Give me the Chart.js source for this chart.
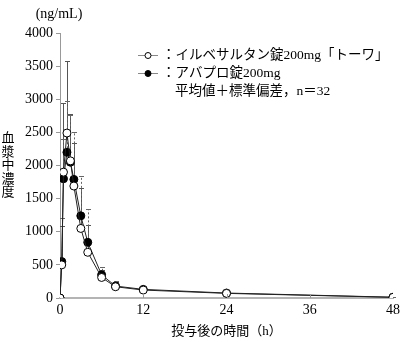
<!DOCTYPE html>
<html>
<head>
<meta charset="utf-8">
<script src="https://cdn.jsdelivr.net/npm/chart.js@4"></script>
<style>
  html, body { margin: 0; padding: 0; background: #fff; }
  #wrap { width: 400px; height: 342px; }
</style>
</head>
<body>
<div id="wrap"><canvas id="pkChart"></canvas></div>
<script>
// 採血時間 (h) と平均値・SD (ng/mL)
const timePoints = [0, 0.25, 0.5, 1, 1.5, 2, 3, 4, 6, 8, 12, 24, 48];
const towaMean = [0, 500, 1900, 2490, 2070, 1690, 1050, 690, 310, 170, 120, 70, 10];
const towaSD = [0, 580, 1040, 1080, 700, 650, 605, 410, 120, 70, 45, 25, 10];
const avaproMean = [0, 550, 1800, 2200, 2050, 1790, 1240, 840, 350, 180, 130, 75, 12];
const avaproSD = [0, 665, 600, 770, 710, 710, 600, 510, 120, 70, 40, 25, 10];
const xTicks = [0, 12, 24, 36, 48];
const legendLabels = ['：イルベサルタン錠200mg「トーワ」', '：アバプロ錠200mg'];
const legendNote = '平均値＋標準偏差，n＝32';
const yTitle = '血漿中濃度';
const yUnit = '(ng/mL)';
const xTitle = '投与後の時間（h）';

const FONT = "'Liberation Serif', 'Noto Sans CJK JP', serif";

// エラーバー（上側のみ）
const errorBars = {
  id: 'errorBars',
  beforeDatasetsDraw(chart) {
    const { ctx, scales: { x, y } } = chart;
    const sets = [
      { mean: towaMean, sd: towaSD, dash: [], color: '#555' },
      { mean: avaproMean, sd: avaproSD, dash: [2, 2], color: '#666' }
    ];
    ctx.save();
    ctx.lineWidth = 1;
    sets.forEach(s => {
      ctx.strokeStyle = s.color;
      timePoints.forEach((t, i) => {
        if (!s.sd[i]) return;
        const px = Math.round(x.getPixelForValue(t)) + 0.5;
        const y0 = y.getPixelForValue(s.mean[i]);
        const y1 = Math.round(y.getPixelForValue(s.mean[i] + s.sd[i])) + 0.5;
        ctx.setLineDash(s.dash);
        ctx.beginPath();
        ctx.moveTo(px, y0);
        ctx.lineTo(px, y1);
        ctx.stroke();
        ctx.setLineDash([]);
        ctx.beginPath();
        ctx.moveTo(px - 2.5, y1);
        ctx.lineTo(px + 2.5, y1);
        ctx.stroke();
      });
    });
    ctx.restore();
  }
};

// 単位、縦書きタイトル、凡例
const extraText = {
  id: 'extraText',
  afterDraw(chart) {
    const { ctx, scales: { x, y } } = chart;
    ctx.save();
    // x軸の内向き目盛
    ctx.strokeStyle = '#999';
    ctx.lineWidth = 1;
    xTicks.slice(1, -1).forEach(v => {
      const px = Math.round(x.getPixelForValue(v)) + 0.5;
      ctx.beginPath();
      ctx.moveTo(px, y.bottom);
      ctx.lineTo(px, y.bottom - 4);
      ctx.stroke();
    });

    ctx.fillStyle = '#000';
    ctx.textBaseline = 'middle';
    ctx.textAlign = 'center';
    ctx.font = '14px ' + FONT;
    ctx.fillText(yUnit, 59, 14);

    ctx.font = '13px ' + FONT;
    [...yTitle].forEach((c, i) => ctx.fillText(c, 8, 139 + i * 13.5));

    // 凡例
    ctx.font = '13.5px ' + FONT;
    const rows = [
      { y: 55, fill: '#fff', text: legendLabels[0] },
      { y: 73, fill: '#000', text: legendLabels[1] }
    ];
    rows.forEach(r => {
      ctx.strokeStyle = '#888';
      ctx.beginPath();
      ctx.moveTo(138, r.y + 0.5);
      ctx.lineTo(158, r.y + 0.5);
      ctx.stroke();
      ctx.strokeStyle = '#000';
      ctx.fillStyle = r.fill;
      ctx.beginPath();
      ctx.arc(148, r.y + 0.5, 3, 0, Math.PI * 2);
      ctx.fill();
      ctx.stroke();
      ctx.fillStyle = '#000';
      ctx.textAlign = 'left';
      ctx.fillText(r.text, 162, r.y);
    });
    ctx.fillText(legendNote, 175, 91);
    ctx.restore();
  }
};

const ctx = document.getElementById('pkChart').getContext('2d');
const pkChart = new Chart(ctx, {
  type: 'line',
  data: {
    datasets: [
      {
        label: legendLabels[0],
        data: timePoints.map((t, i) => ({ x: t, y: towaMean[i] })),
        borderColor: '#222',
        borderWidth: 1,
        pointRadius: 4,
        pointBorderWidth: 1,
        pointBackgroundColor: '#fff',
        pointBorderColor: '#000',
        tension: 0
      },
      {
        label: legendLabels[1],
        data: timePoints.map((t, i) => ({ x: t, y: avaproMean[i] })),
        borderColor: '#222',
        borderWidth: 1,
        pointRadius: 4,
        pointBorderWidth: 1,
        pointBackgroundColor: '#000',
        pointBorderColor: '#000',
        tension: 0
      }
    ]
  },
  options: {
    responsive: true,
    maintainAspectRatio: false,
    animation: false,
    devicePixelRatio: 1,
    layout: { padding: { left: 0, right: 7, top: 33, bottom: 0 } },
    plugins: {
      legend: { display: false },
      tooltip: { enabled: false }
    },
    scales: {
      x: {
        type: 'linear',
        min: 0,
        max: 48,
        afterBuildTicks: scale => { scale.ticks = xTicks.map(v => ({ value: v })); },
        afterFit: scale => {
          scale.height = 44;
          scale.paddingLeft = 0;
          scale.paddingRight = 7;
        },
        grid: { display: false, drawTicks: false },
        border: { display: true, color: '#b4b4b4', width: 2 },
        ticks: { color: '#000', padding: 4, maxRotation: 0, font: { family: FONT, size: 14 } },
        title: {
          display: true,
          text: xTitle,
          color: '#000',
          font: { family: FONT, size: 13 },
          padding: { top: 0, bottom: 3 }
        }
      },
      y: {
        min: 0,
        max: 4000,
        afterFit: scale => { scale.width = 60; },
        grid: { drawOnChartArea: false, drawTicks: true, tickLength: 4, color: '#999' },
        border: { display: true, color: '#999', width: 1 },
        ticks: {
          stepSize: 500,
          color: '#000',
          padding: 3,
          font: { family: FONT, size: 14 },
          callback: v => String(v)
        }
      }
    }
  },
  plugins: [errorBars, extraText]
});
</script>
</body>
</html>
